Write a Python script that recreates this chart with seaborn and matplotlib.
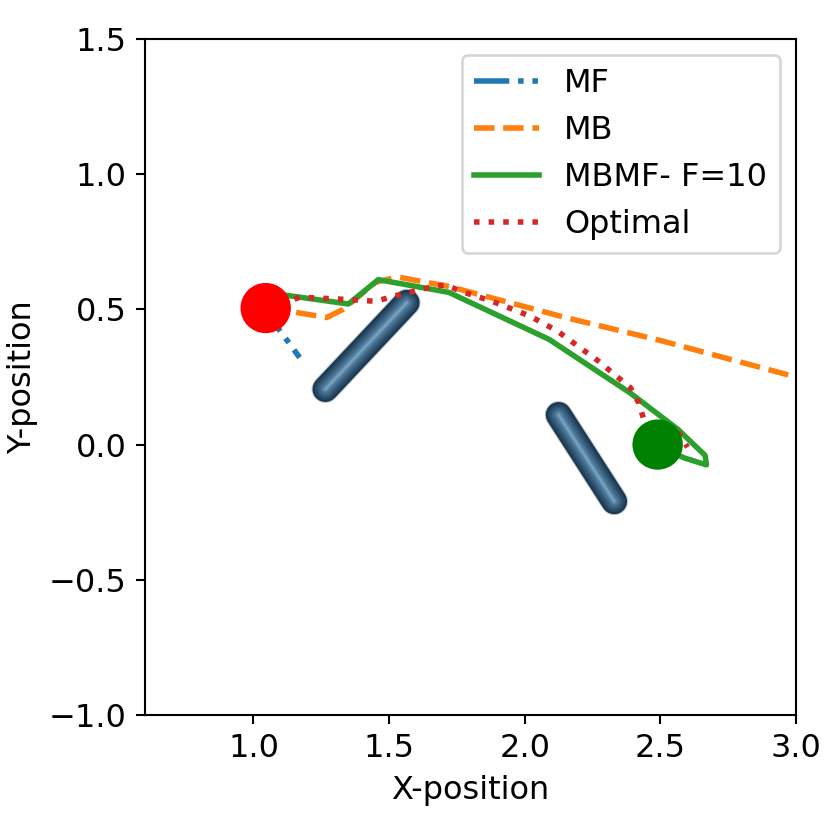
import matplotlib
matplotlib.use("Agg")
import matplotlib.pyplot as plt
import seaborn as sns
from matplotlib.patches import Circle

# trajectories
mf_x = [1.04, 1.17]
mf_y = [0.50, 0.322]

mb_x = [1.05, 1.15, 1.27, 1.33, 1.45, 1.53, 1.72, 2.15, 2.50, 3.00, 3.10]
mb_y = [0.50, 0.49, 0.47, 0.50, 0.60, 0.62, 0.585, 0.47, 0.385, 0.25, 0.22]

mbmf_x = [1.05, 1.10, 1.35, 1.46, 1.72, 2.09, 2.39, 2.565, 2.665, 2.67, 2.59, 2.52]
mbmf_y = [0.50, 0.555, 0.52, 0.61, 0.563, 0.389, 0.19, 0.056, -0.04, -0.075, -0.05, -0.02]

opt_x = [1.05, 1.17, 1.34, 1.45, 1.545, 1.67, 1.71, 1.77, 1.88, 2.02, 2.12, 2.27,
         2.39, 2.42, 2.44, 2.50, 2.57, 2.60]
opt_y = [0.50, 0.545, 0.537, 0.53, 0.556, 0.586, 0.59, 0.565, 0.53, 0.475, 0.42, 0.31,
         0.21, 0.155, 0.09, 0.06, 0.04, -0.01]

# start / goal and obstacles
start_x, start_y = 1.045, 0.505
goal_x, goal_y = 2.49, 0.0
marker_radius = 0.088

obstacle1_x = [1.265, 1.565]
obstacle1_y = [0.205, 0.525]
obstacle2_x = [2.125, 2.33]
obstacle2_y = [0.11, -0.21]

x_ticks = [1.0, 1.5, 2.0, 2.5, 3.0]
y_ticks = [-1.0, -0.5, 0.0, 0.5, 1.0, 1.5]

sns.set_style("ticks")
plt.rcParams.update({
    "font.family": "DejaVu Sans",
    "font.size": 12.2,
    "axes.edgecolor": "black",
    "axes.labelcolor": "black",
    "text.color": "black",
    "xtick.color": "black",
    "ytick.color": "black",
    "axes.linewidth": 0.8,
    "xtick.major.size": 3.5,
    "ytick.major.size": 3.5,
    "xtick.major.width": 0.8,
    "ytick.major.width": 0.8,
    "lines.solid_capstyle": "projecting",
})

DPI = 189
LW = 2.1
MF_DASHES = (6.4, 1.6, 1, 1.6, 1, 1.6)
fig = plt.figure(figsize=(830 / DPI, 830 / DPI), dpi=DPI)
ax = fig.add_axes([0.1747, 0.1386, 0.7843, 0.8144])

# obstacles: stacked round-capped strokes give the shaded capsule look
layers = [(10.6, "#c3ccd3"), (9.8, "#1c3850"), (8.2, "#254761"), (6.7, "#305571"),
          (5.2, "#3c6382"), (3.7, "#4a7292"), (2.2, "#5c85a5"), (1.0, "#72a0bf")]
for ox, oy in [(obstacle1_x, obstacle1_y), (obstacle2_x, obstacle2_y)]:
    for w, c in layers:
        ax.plot(ox, oy, color=c, lw=w, solid_capstyle="round", zorder=1)

sns.lineplot(x=mf_x, y=mf_y, sort=False, estimator=None, ax=ax, color="tab:blue", lw=LW,
             linestyle=(4.1, MF_DASHES), label="MF")
sns.lineplot(x=mb_x, y=mb_y, sort=False, estimator=None, ax=ax, color="tab:orange", lw=LW,
             linestyle="--", label="MB")
sns.lineplot(x=mbmf_x, y=mbmf_y, sort=False, estimator=None, ax=ax, color="tab:green", lw=LW,
             linestyle="-", label="MBMF- F=10")
sns.lineplot(x=opt_x, y=opt_y, sort=False, estimator=None, ax=ax, color="tab:red", lw=LW,
             linestyle=":", label="Optimal")

ax.add_patch(Circle((start_x, start_y), marker_radius, color="red", zorder=4))
ax.add_patch(Circle((goal_x, goal_y), marker_radius, color="green", zorder=4))

ax.set_xlim(0.6, 3.0)
ax.set_ylim(-1.0, 1.5)
ax.set_xticks(x_ticks)
ax.set_yticks(y_ticks)
ax.set_xlabel("X-position")
ax.set_ylabel("Y-position")
leg = ax.legend(loc="upper right")
# legend handle starts with the long dash, without the offset used on the plot
leg.get_lines()[0].set_linestyle((0, MF_DASHES))

fig.savefig("out.png", dpi=DPI)
